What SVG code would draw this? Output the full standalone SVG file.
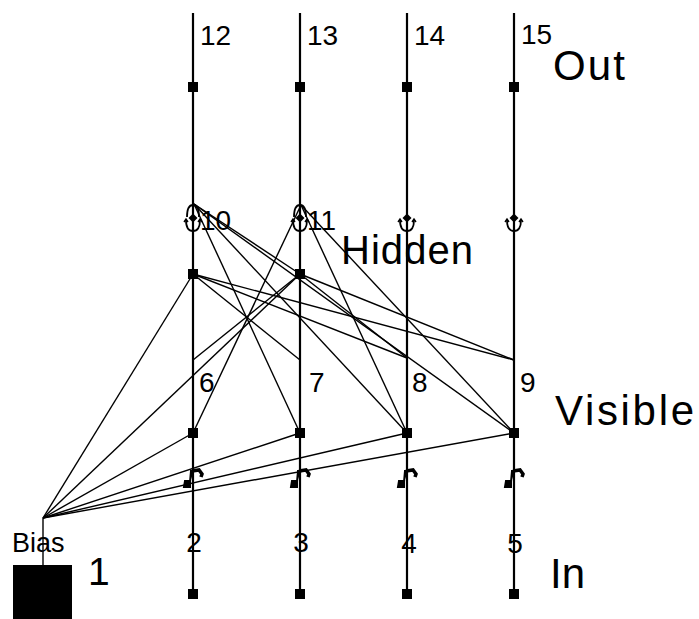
<svg xmlns="http://www.w3.org/2000/svg" xmlns:xlink="http://www.w3.org/1999/xlink" width="699" height="619" viewBox="0 0 699 619">
<style>
text{font-family:"Liberation Sans",Arial,sans-serif;fill:#000}
.num{font-size:28px}
.big{font-size:42px}
.col{stroke:#000;stroke-width:2.2;fill:none}
.cn line{stroke:#000;stroke-width:1.4}
</style>
<defs>
<g id="anchor">
<path d="M0,-4.5 L4.5,0 L0,4.5 L-4.5,0 Z" fill="#000"/>
<path d="M-7,2 Q-7,13 0,13 Q7,13 7,2" fill="none" stroke="#000" stroke-width="1.8"/>
<path d="M-9,4 L-7,1 L-5,4 M5,4 L7,1 L9,4" fill="none" stroke="#000" stroke-width="1.4"/>
</g>
<g id="arch">
<path d="M-6,-1 Q-6,-13 0,-13 Q6,-13 6,-1" fill="none" stroke="#000" stroke-width="1.8"/>
</g>
<g id="note">
<path d="M-1,-7 L6,-8 L9,-4 L8,-1" fill="none" stroke="#000" stroke-width="3.5"/>
<path d="M-8,3 L-3,3 L-3,9 L-9,9 Z M-3,4 L-2,-7 L1,-7" fill="#000" stroke="#000" stroke-width="2"/>
</g>
<rect id="sq" x="-5" y="-5" width="10" height="10"/>
</defs>

<g id="connectors" class="cn">
<line x1="43" y1="518" x2="193" y2="274"/>
<line x1="43" y1="518" x2="300" y2="274"/>
<line x1="43" y1="518" x2="193" y2="433"/>
<line x1="43" y1="518" x2="300" y2="433"/>
<line x1="43" y1="518" x2="407" y2="433"/>
<line x1="43" y1="518" x2="514" y2="433"/>
<line x1="193" y1="274" x2="300" y2="360"/>
<line x1="193" y1="274" x2="407" y2="358"/>
<line x1="193" y1="274" x2="514" y2="360"/>
<line x1="300" y1="274" x2="193" y2="360"/>
<line x1="300" y1="274" x2="407" y2="358"/>
<line x1="300" y1="274" x2="514" y2="360"/>
<line x1="194" y1="204" x2="300" y2="433"/>
<line x1="194" y1="204" x2="407" y2="433"/>
<line x1="194" y1="204" x2="514" y2="433"/>
<line x1="194" y1="204" x2="300" y2="274"/>
<line x1="301" y1="205" x2="193" y2="433"/>
<line x1="301" y1="205" x2="407" y2="433"/>
<line x1="301" y1="205" x2="514" y2="433"/>
<line x1="43" y1="518" x2="43" y2="566"/>
</g>

<g id="columns">
<line class="col" x1="193" y1="13" x2="193" y2="594"/>
<line class="col" x1="300" y1="13" x2="300" y2="594"/>
<line class="col" x1="407" y1="13" x2="407" y2="594"/>
<line class="col" x1="514" y1="13" x2="514" y2="594"/>
</g>

<g id="n12"><use xlink:href="#sq" x="193" y="87"/><text class="num" x="200" y="45">12</text></g>
<g id="n13"><use xlink:href="#sq" x="300" y="87"/><text class="num" x="307" y="45">13</text></g>
<g id="n14"><use xlink:href="#sq" x="407" y="87"/><text class="num" x="414" y="45">14</text></g>
<g id="n15"><use xlink:href="#sq" x="514" y="87"/><text class="num" x="521" y="44">15</text></g>
<g id="out"><text class="big" x="553" y="80" textLength="72">Out</text></g>

<g id="n10"><use xlink:href="#arch" x="193" y="218"/><use xlink:href="#anchor" x="193" y="218"/><use xlink:href="#sq" x="193" y="274"/><text class="num" x="200" y="230">10</text></g>
<g id="n11"><use xlink:href="#arch" x="300" y="218"/><use xlink:href="#anchor" x="300" y="218"/><use xlink:href="#sq" x="300" y="274"/><text class="num" x="307" y="230">11</text></g>
<g id="a14"><use xlink:href="#anchor" x="407" y="218"/></g>
<g id="a15"><use xlink:href="#anchor" x="514" y="218"/></g>
<g id="hidden"><text class="big" x="341" y="264" textLength="132" style="font-size:40px">Hidden</text></g>

<g id="n6"><use xlink:href="#sq" x="193" y="433"/><text class="num" x="199" y="392">6</text></g>
<g id="n7"><use xlink:href="#sq" x="300" y="433"/><text class="num" x="309" y="392">7</text></g>
<g id="n8"><use xlink:href="#sq" x="407" y="433"/><text class="num" x="412" y="392">8</text></g>
<g id="n9"><use xlink:href="#sq" x="514" y="433"/><text class="num" x="520" y="392">9</text></g>
<g id="visible"><text class="big" x="555" y="425" textLength="139">Visible</text></g>

<g id="n2"><use xlink:href="#note" x="193" y="478"/><use xlink:href="#sq" x="193" y="594"/><text class="num" x="194" y="552" text-anchor="middle">2</text></g>
<g id="n3"><use xlink:href="#note" x="300" y="478"/><use xlink:href="#sq" x="300" y="594"/><text class="num" x="301" y="552" text-anchor="middle">3</text></g>
<g id="n4"><use xlink:href="#note" x="407" y="478"/><use xlink:href="#sq" x="407" y="594"/><text class="num" x="409" y="553" text-anchor="middle">4</text></g>
<g id="n5"><use xlink:href="#note" x="514" y="478"/><use xlink:href="#sq" x="514" y="594"/><text class="num" x="515" y="553" text-anchor="middle">5</text></g>
<g id="in"><text class="big" x="550" y="588">In</text></g>

<g id="n1">
<rect x="13" y="565" width="59" height="54" fill="#000"/>
<text x="12" y="552" style="font-size:27px">Bias</text>
<text x="88" y="585" style="font-size:39px">1</text>
</g>
</svg>
